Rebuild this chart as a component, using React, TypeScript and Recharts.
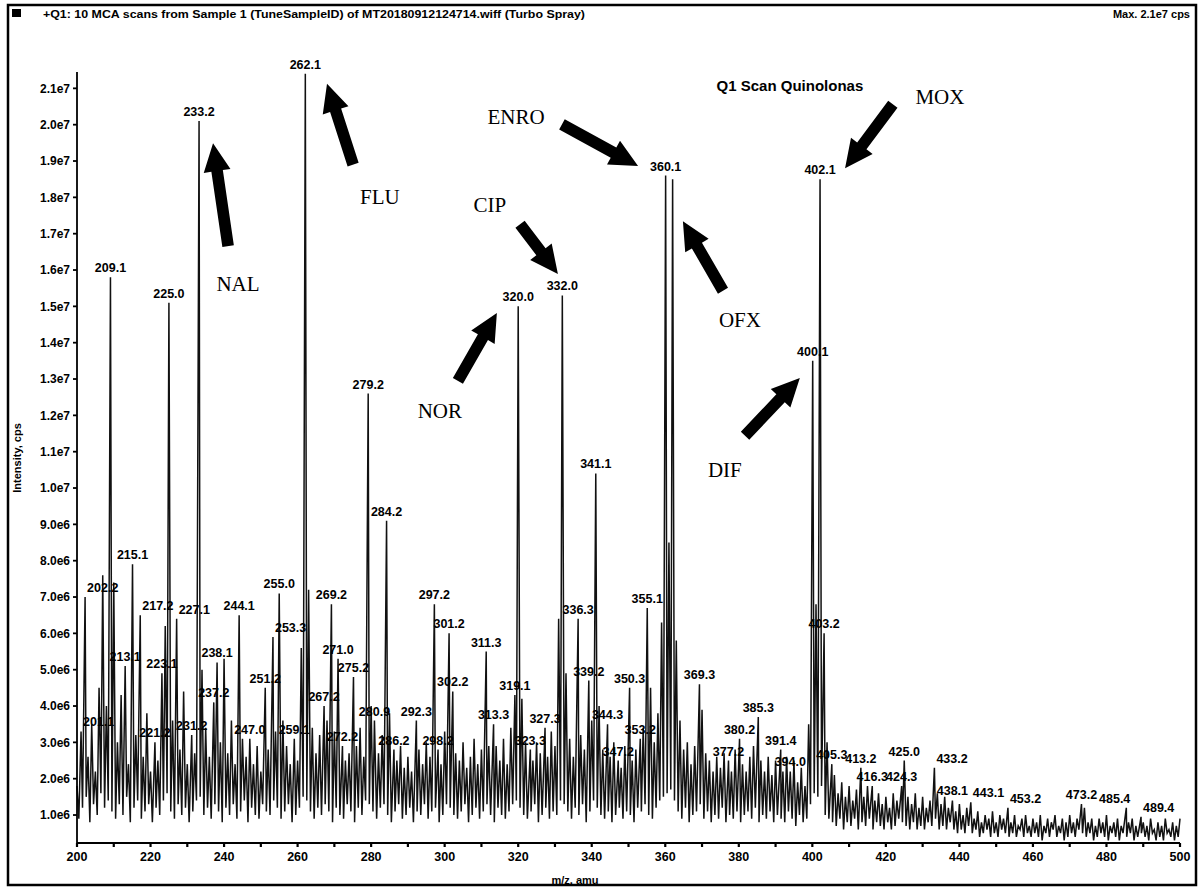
import React from 'react';
import { ComposedChart, Line, Scatter, XAxis, YAxis, ReferenceLine } from 'recharts';

// m/z of first profile point; intensities are in units of 1e6 cps
const MZ_START = 200;

// apex intensity at each integer m/z 200..500 (1e6 cps)
const topIntensity = [
  1.8, 3.3, 7.0, 2.6, 3.5, 2.2, 4.5, 7.6, 4.0, 15.8,
  7.4, 3.0, 4.3, 5.1, 2.4, 7.9, 3.2, 6.5, 2.6, 3.8,
  2.2, 3.0, 2.5, 4.9, 6.2, 15.1, 3.6, 6.4, 2.8, 4.4,
  2.4, 3.2, 2.7, 20.1, 5.0, 3.4, 2.6, 4.1, 5.2, 3.0,
  5.3, 2.7, 3.6, 2.4, 6.5, 3.1, 2.6, 3.1, 2.4, 2.9,
  2.2, 4.5, 2.8, 5.9, 3.3, 7.1, 3.6, 2.9, 2.4, 3.1,
  2.5, 5.6, 21.4, 7.2, 3.4, 2.7, 3.2, 4.0, 3.6, 6.8,
  3.3, 5.3, 2.9, 2.5, 2.7, 4.8, 2.9, 3.4, 2.6, 12.6,
  4.0, 3.6, 2.7, 3.2, 9.1, 3.8, 2.8, 2.5, 2.9, 2.3,
  2.6, 2.2, 3.6, 2.8, 2.4, 3.0, 2.6, 6.8, 2.8, 2.4,
  3.3, 6.0, 4.4, 2.7, 2.5, 3.0, 2.3, 2.6, 3.1, 2.4,
  2.8, 5.5, 2.9, 3.5, 2.9, 2.5, 3.1, 2.4, 3.4, 4.3,
  15.0, 4.2, 3.0, 2.8, 2.5, 3.0, 2.7, 3.4, 2.6, 3.3,
  2.9, 6.4, 15.3, 4.9, 3.1, 2.6, 6.4, 3.2, 2.8, 4.7,
  3.6, 10.4, 4.0, 2.8, 3.5, 2.6, 3.0, 2.5, 2.3, 2.9,
  4.5, 2.5, 2.8, 3.1, 3.4, 6.7, 4.5, 3.0, 3.8, 6.3,
  18.6, 8.5, 18.5, 5.8, 3.6, 2.8, 3.0, 2.4, 2.9, 4.6,
  3.9, 2.7, 2.5, 2.2, 2.6, 2.3, 2.7, 2.5, 2.2, 2.8,
  3.1, 2.4, 2.2, 2.6, 2.9, 3.7, 2.5, 2.2, 2.6, 2.1,
  2.5, 2.8, 2.2, 2.6, 2.2, 2.5, 1.9, 2.3, 1.8, 3.5,
  13.5, 6.8, 18.5, 6.0, 3.0, 2.4, 2.1, 1.6, 1.9, 1.5,
  1.8, 1.4, 1.7, 2.3, 1.5, 1.8, 1.8, 1.4, 1.6, 1.3,
  1.5, 1.2, 1.6, 1.4, 1.8, 2.5, 1.5, 1.3, 1.6, 1.2,
  1.5, 1.2, 1.4, 2.3, 1.6, 1.3, 1.5, 1.2, 1.4, 1.1,
  1.3, 1.0, 1.2, 1.35, 0.9, 1.1, 0.8, 1.0, 0.9, 1.1,
  0.8, 1.0, 0.9, 1.2, 0.8, 1.0, 0.7, 0.9, 1.0, 0.7,
  0.9, 0.8, 1.0, 0.7, 0.9, 0.8, 1.0, 0.7, 0.9, 0.8,
  1.0, 0.8, 0.9, 1.3, 1.2, 0.8, 0.9, 0.7, 0.9, 0.8,
  1.0, 0.7, 0.8, 0.9, 0.7, 1.2, 0.8, 0.9, 0.7, 0.95,
  0.8, 0.7, 0.9, 0.6, 0.8, 0.7, 0.9, 0.6, 0.8, 0.7,
  0.9,
];

// trough intensity between consecutive integer m/z (1e6 cps)
const valleyIntensity = [
  0.9, 1.2, 1.5, 0.8, 1.3, 1.0, 1.6, 1.2, 1.4, 1.1,
  0.9, 1.3, 1.0, 1.5, 0.8, 1.2, 1.4, 0.9, 1.1, 1.3,
  0.8, 1.2, 1.0, 1.4, 1.6, 1.1, 0.9, 1.3, 1.0, 1.2,
  0.8, 1.1, 1.4, 1.5, 1.0, 1.2, 0.9, 1.3, 1.1, 0.8,
  1.2, 1.0, 1.3, 0.9, 1.1, 1.4, 0.8, 1.2, 1.0, 0.9,
  1.3, 1.1, 1.0, 1.4, 1.2, 0.9, 1.1, 1.3, 0.8, 1.0,
  1.2, 1.5, 1.4, 1.1, 0.9, 1.2, 1.0, 1.3, 1.1, 0.8,
  1.2, 1.0, 0.9, 1.3, 1.1, 0.8, 1.2, 1.0, 1.4, 1.3,
  1.1, 0.9, 1.2, 1.3, 1.0, 0.8, 1.1, 1.3, 0.9, 1.0,
  1.2, 0.8, 1.1, 1.0, 1.3, 0.9, 1.1, 1.2, 0.8, 1.0,
  1.3, 1.2, 1.0, 0.9, 1.1, 1.3, 0.8, 1.0, 1.2, 0.9,
  1.1, 1.3, 1.0, 0.8, 1.2, 1.0, 0.9, 1.1, 1.3, 1.4,
  1.2, 1.0, 0.9, 1.1, 1.3, 0.8, 1.0, 1.2, 0.9, 1.1,
  1.0, 1.4, 1.3, 1.1, 0.9, 1.2, 1.0, 1.3, 0.8, 1.1,
  1.4, 1.2, 1.0, 0.9, 1.1, 0.8, 1.0, 1.2, 0.9, 1.1,
  1.0, 0.8, 1.2, 1.1, 1.3, 1.0, 0.9, 1.2, 1.4, 1.5,
  1.6, 1.7, 1.4, 1.1, 0.9, 1.2, 0.8, 1.0, 1.1, 1.3,
  0.9, 1.1, 0.8, 1.0, 0.9, 1.2, 0.8, 1.0, 0.9, 1.1,
  0.8, 1.0, 1.1, 0.9, 1.2, 0.8, 1.0, 0.9, 1.1, 0.8,
  1.0, 0.9, 0.8, 1.1, 0.9, 0.7, 1.0, 0.8, 0.9, 1.3,
  1.6, 1.5, 1.8, 1.0, 0.9, 0.8, 0.7, 0.9, 0.6, 0.8,
  0.7, 0.9, 0.6, 0.8, 0.7, 0.9, 0.6, 0.8, 0.7, 0.6,
  0.8, 0.6, 0.7, 0.9, 0.8, 0.7, 0.6, 0.8, 0.6, 0.7,
  0.6, 0.8, 0.7, 0.9, 0.6, 0.7, 0.6, 0.8, 0.6, 0.5,
  0.6, 0.5, 0.7, 0.5, 0.6, 0.4, 0.5, 0.6, 0.4, 0.5,
  0.4, 0.6, 0.5, 0.4, 0.5, 0.4, 0.6, 0.4, 0.5, 0.4,
  0.5, 0.4, 0.3, 0.5, 0.4, 0.6, 0.4, 0.5, 0.3, 0.4,
  0.5, 0.4, 0.6, 0.5, 0.4, 0.5, 0.3, 0.4, 0.5, 0.4,
  0.3, 0.5, 0.4, 0.3, 0.5, 0.4, 0.5, 0.3, 0.4, 0.5,
  0.4, 0.3, 0.5, 0.3, 0.4, 0.3, 0.5, 0.4, 0.3, 0.4,
];

// labelled peaks (m/z as printed on the spectrum)
const labelledMz = [
  201.1, 202.2, 209.1, 213.1, 215.1, 217.2, 221.2, 223.1, 225.0, 227.1,
  231.2, 233.2, 237.2, 238.1, 244.1, 247.0, 251.2, 253.3, 255.0, 259.1,
  262.1, 267.2, 269.2, 271.0, 272.2, 275.2, 279.2, 280.9, 284.2, 286.2,
  292.3, 297.2, 298.2, 301.2, 302.2, 311.3, 313.3, 319.1, 320.0, 323.3,
  327.3, 332.0, 336.3, 339.2, 341.1, 344.3, 347.2, 350.3, 353.2, 355.1,
  360.1, 369.3, 377.2, 380.2, 385.3, 391.4, 394.0, 400.1, 402.1, 403.2,
  405.3, 413.2, 416.3, 424.3, 425.0, 433.2, 438.1, 443.1, 453.2, 473.2,
  485.4, 489.4,
];

const xTicks = [200, 210, 220, 230, 240, 250, 260, 270, 280, 290, 300, 310, 320, 330, 340, 350,
  360, 370, 380, 390, 400, 410, 420, 430, 440, 450, 460, 470, 480, 490, 500];
const yTicks = [1, 2, 3, 4, 5, 6, 7, 8, 9, 10, 11, 12, 13, 14, 15, 16, 17, 18, 19, 20, 21];

// compound annotations (text anchor and arrow tail/head, in m/z and 1e6 cps)
const compoundNames = ['NAL', 'FLU', 'ENRO', 'CIP', 'NOR', 'OFX', 'MOX', 'DIF'];
const nameMz = [243.8, 282.4, 319.4, 312.3, 298.7, 380.3, 434.7, 376.2];
const nameInt = [15.62, 18.02, 20.22, 17.78, 12.13, 14.62, 20.75, 10.5];
const arrowTailMz = [241.1, 275.1, 331.9, 320.5, 303.6, 375.7, 421.9, 381.7];
const arrowTailInt = [16.66, 18.9, 20.01, 17.26, 12.95, 15.43, 20.56, 11.44];
const arrowHeadMz = [237.0, 268.0, 352.6, 330.8, 314.2, 364.8, 408.9, 396.6];
const arrowHeadInt = [19.49, 21.13, 18.86, 15.89, 14.82, 17.34, 18.8, 13.03];
const titleText = 'Q1 Scan Quinolonas';
const titleMz = 393.9;
const titleInt = 21.07;

const SANS = "'Liberation Sans', Arial, sans-serif";
const SERIF = "'Liberation Serif', 'Times New Roman', serif";

// peak labels printed to the right / left of their line in the original
const LABEL_RIGHT = new Set(['201.1', '202.2', '217.2', '227.1', '253.3', '433.2', '443.1', '453.2', '489.4']);
const LABEL_LEFT = new Set(['485.4']);

const trace: { mz: number; i: number }[] = [];
topIntensity.forEach((v, k) => {
  const m = MZ_START + k;
  const lab = labelledMz.find((x) => Math.round(x) === m);
  trace.push({ mz: lab ?? m, i: v });
  if (k < valleyIntensity.length) trace.push({ mz: m + 0.5, i: valleyIntensity[k] });
});

const labelPoints = labelledMz.map((mz) => ({
  mz,
  i: topIntensity[Math.round(mz) - MZ_START],
  label: mz.toFixed(1),
}));

const namePoints = compoundNames.map((n, k) => ({ mz: nameMz[k], i: nameInt[k], name: n }));
const titlePoints = [{ mz: titleMz, i: titleInt, name: titleText }];

const yFmt = (v: number) => (v >= 10 ? `${(v / 10).toFixed(1)}e7` : `${v.toFixed(1)}e6`);
const xFmt = (v: number) => (v % 20 === 0 ? String(v) : '');

const arrowShape = (p: any) => {
  const x1 = Number(p.x1), y1 = Number(p.y1), x2 = Number(p.x2), y2 = Number(p.y2);
  const dx = x2 - x1, dy = y2 - y1;
  const len = Math.hypot(dx, dy) || 1;
  const ux = dx / len, uy = dy / len;
  const nx = -uy, ny = ux;
  const headLen = 28, headW = 13.5, shaftW = 5.8;
  const bx = x2 - ux * headLen, by = y2 - uy * headLen;
  const pts = [
    [x1 + nx * shaftW, y1 + ny * shaftW],
    [bx + nx * shaftW, by + ny * shaftW],
    [bx + nx * headW, by + ny * headW],
    [x2, y2],
    [bx - nx * headW, by - ny * headW],
    [bx - nx * shaftW, by - ny * shaftW],
    [x1 - nx * shaftW, y1 - ny * shaftW],
  ];
  return <polygon points={pts.map((q) => q.join(',')).join(' ')} fill="#000" />;
};

const peakLabel = (p: any) => {
  const t = p.payload.label;
  const right = LABEL_RIGHT.has(t);
  const left = LABEL_LEFT.has(t);
  return (
    <text
      x={right ? p.cx + 2 : left ? p.cx + 4 : p.cx}
      y={p.cy - 5}
      textAnchor={right ? 'start' : left ? 'end' : 'middle'}
      fontFamily={SANS}
      fontWeight="bold"
      fontSize={12.5}
      fill="#000"
    >
      {t}
    </text>
  );
};

const nameLabel = (p: any) => (
  <text x={p.cx} y={p.cy} textAnchor="middle" dominantBaseline="central" fontFamily={SERIF} fontSize={21} fill="#000">
    {p.payload.name}
  </text>
);

const titleLabel = (p: any) => (
  <text x={p.cx} y={p.cy} textAnchor="middle" dominantBaseline="central" fontFamily={SANS} fontWeight="bold" fontSize={15} fill="#000">
    {p.payload.name}
  </text>
);

export default function App() {
  return (
    <div style={{ position: 'absolute', left: 0, top: 0, width: 1202, height: 888, background: '#fff', overflow: 'hidden' }}>
      <ComposedChart
        width={1202}
        height={888}
        data={trace}
        margin={{ top: 72, right: 22, bottom: 15, left: 0 }}
      >
        <XAxis
          dataKey="mz"
          type="number"
          domain={[200, 500]}
          ticks={xTicks}
          tickFormatter={xFmt}
          interval={0}
          height={30}
          tickSize={4}
          tickMargin={5}
          stroke="#000"
          strokeWidth={2.2}
          tick={{ fontSize: 12.5, fontWeight: 'bold', fill: '#000', fontFamily: SANS }}
        />
        <YAxis
          type="number"
          domain={[0.23, 21.45]}
          ticks={yTicks}
          tickFormatter={yFmt}
          interval={0}
          width={77}
          tickSize={4}
          tickMargin={3}
          stroke="#000"
          strokeWidth={1.8}
          tick={{ fontSize: 12, fontWeight: 'bold', fill: '#000', fontFamily: SANS }}
        />
        <Line
          type="linear"
          dataKey="i"
          stroke="#111"
          strokeWidth={1.5}
          dot={false}
          activeDot={false}
          isAnimationActive={false}
        />
        {compoundNames.map((n, k) => (
          <ReferenceLine
            key={n}
            segment={[
              { x: arrowTailMz[k], y: arrowTailInt[k] },
              { x: arrowHeadMz[k], y: arrowHeadInt[k] },
            ]}
            ifOverflow="visible"
            shape={arrowShape}
          />
        ))}
        <Scatter data={labelPoints} dataKey="i" shape={peakLabel} isAnimationActive={false} />
        <Scatter data={namePoints} dataKey="i" shape={nameLabel} isAnimationActive={false} />
        <Scatter data={titlePoints} dataKey="i" shape={titleLabel} isAnimationActive={false} />
      </ComposedChart>
      <svg
        width={1202}
        height={888}
        style={{ position: 'absolute', left: 0, top: 0, pointerEvents: 'none' }}
      >
        <rect x={8} y={5} width={1188} height={880} fill="none" stroke="#000" strokeWidth={2.5} />
        <rect x={12} y={9} width={9} height={8} fill="#000" />
        <text x={43} y={18} fontFamily={SANS} fontWeight="bold" fontSize={11} fill="#000" textLength={542} lengthAdjust="spacingAndGlyphs">
          +Q1: 10 MCA scans from Sample 1 (TuneSampleID) of MT20180912124714.wiff (Turbo Spray)
        </text>
        <text x={1190} y={18} textAnchor="end" fontFamily={SANS} fontWeight="bold" fontSize={11} fill="#000">
          Max. 2.1e7 cps
        </text>
        <text
          x={17}
          y={458}
          transform="rotate(-90 17 458)"
          textAnchor="middle"
          dominantBaseline="central"
          fontFamily={SANS}
          fontWeight="bold"
          fontSize={11}
          fill="#000"
        >
          Intensity, cps
        </text>
        <text x={575} y={884} textAnchor="middle" fontFamily={SANS} fontWeight="bold" fontSize={11} fill="#000">
          m/z, amu
        </text>
      </svg>
    </div>
  );
}
